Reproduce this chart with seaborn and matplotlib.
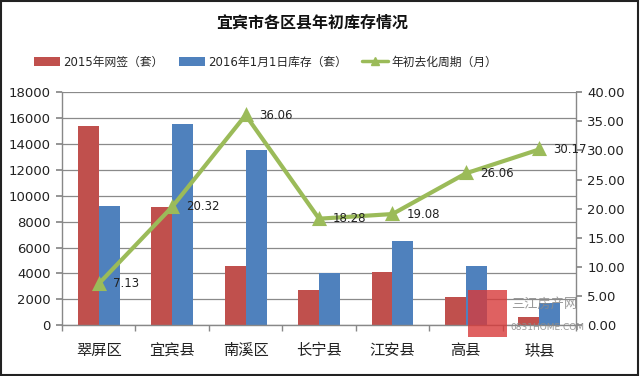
import matplotlib
matplotlib.use("Agg")
import matplotlib.pyplot as plt
import seaborn as sns
import pandas as pd
import numpy as np
from matplotlib.patches import Patch, Rectangle
from matplotlib.lines import Line2D
from matplotlib.ticker import FuncFormatter, MultipleLocator

categories = ["翠屏区", "宜宾县", "南溪区", "长宁县", "江安县", "高县", "珙县"]
sales_2015 = [15400, 9150, 4550, 2700, 4120, 2160, 650]
stock_2016 = [9180, 15500, 13550, 4010, 6530, 4550, 1700]
cycle_months = [7.13, 20.32, 36.06, 18.28, 19.08, 26.06, 30.17]
series_names = ["2015年网签（套）", "2016年1月1日库存（套）", "年初去化周期（月）"]
cycle_labels = ["7.13", "20.32", "36.06", "18.28", "19.08", "26.06", "30.17"]

sns.set_theme(style="white")
plt.rcParams["font.family"] = ["DejaVu Sans", "Noto Sans CJK SC"]

red = "#C0504D"
blue = "#4F81BD"
green = "#9BBB59"

df = pd.DataFrame({
    "区县": categories * 2,
    "数量": sales_2015 + stock_2016,
    "系列": [series_names[0]] * len(categories) + [series_names[1]] * len(categories),
})
df_line = pd.DataFrame({"区县": categories, "周期": cycle_months})

fig = plt.figure(figsize=(6.4, 3.76), dpi=100)
ax = fig.add_axes([0.097, 0.135, 0.803, 0.62])

sns.barplot(data=df, x="区县", y="数量", hue="系列", palette=[red, blue],
            width=0.57, gap=0, ax=ax, legend=False, saturation=1, linewidth=0)
ax.set_xlim(-0.5, len(categories) - 0.5)
ax.set_ylim(0, 18000)
ax.yaxis.set_major_locator(MultipleLocator(2000))
ax.grid(axis="y", color="#8a8a8a", linewidth=0.9)
ax.set_axisbelow(True)
ax.set_xlabel("")
ax.set_ylabel("")

ax2 = ax.twinx()
sns.pointplot(data=df_line, x="区县", y="周期", color=green, markers="^",
              linestyles="-", ax=ax2, markersize=7, linewidth=3)
ax2.set_xlim(-0.5, len(categories) - 0.5)
ax2.set_ylim(0, 40)
ax2.yaxis.set_major_locator(MultipleLocator(5))
ax2.yaxis.set_major_formatter(FuncFormatter(lambda v, p: f"{v:.2f}"))
ax2.set_ylabel("")
ax2.grid(False)

for i, (v, lab) in enumerate(zip(cycle_months, cycle_labels)):
    ax2.annotate(lab, (i, v), xytext=(14, 0), textcoords="offset pixels",
                 ha="left", va="center", fontsize=8.5, color="#222222")

for a in (ax, ax2):
    a.spines["top"].set_visible(False)
    for s in ("left", "right", "bottom"):
        a.spines[s].set_color("#888888")
        a.spines[s].set_linewidth(1)

ax.spines["right"].set_visible(False)
ax2.spines["left"].set_visible(False)
ax2.spines["bottom"].set_visible(False)

ax.tick_params(axis="y", which="major", left=True, length=4, color="#888888",
               labelsize=9.5, labelcolor="#222222", pad=4)
ax2.tick_params(axis="y", which="major", right=True, length=4, color="#888888",
                labelsize=9.5, labelcolor="#222222", pad=4)
ax.set_xticks(range(len(categories)))
ax.set_xticklabels(categories, fontsize=11, color="#222222")
ax.set_xticks(np.arange(-0.5, len(categories), 1), minor=True)
ax.tick_params(axis="x", which="major", length=0, pad=13)
ax.tick_params(axis="x", which="minor", bottom=True, length=4, color="#888888")

fig.text(0.487, 0.94, "宜宾市各区县年初库存情况", ha="center", va="center",
         fontsize=11.5, fontweight="bold", family=["Noto Sans CJK SC"], color="#111111")

handles = [
    Patch(facecolor=red, edgecolor="none"),
    Patch(facecolor=blue, edgecolor="none"),
    Line2D([0], [0], color=green, linewidth=2.5, marker="^", markersize=6),
]
fig.legend(handles, series_names, loc="center", bbox_to_anchor=(0.415, 0.835),
           ncol=3, frameon=False, handlelength=2.2, handleheight=0.8,
           columnspacing=1.3, handletextpad=0.25,
           prop={"family": ["DejaVu Sans", "Noto Sans CJK SC"], "size": 8.5})

# watermark
fig.patches.append(Rectangle((0.731, 0.104), 0.061, 0.125, transform=fig.transFigure,
                             facecolor="#d83a3a", alpha=0.8, edgecolor="none"))
fig.text(0.798, 0.19, "三江房产网", ha="left", va="center", fontsize=9.5,
         color="#8a8a8a", alpha=0.85, family=["Noto Sans CJK SC"])
fig.text(0.798, 0.128, "0831HOME.COM", ha="left", va="center", fontsize=6.5,
         color="#8a8a8a", alpha=0.9)

fig.patches.append(Rectangle((0.002, 0.003), 0.995, 0.994, transform=fig.transFigure,
                             facecolor="none", edgecolor="#222222", linewidth=1.5))

fig.savefig("out.png", dpi=100)
